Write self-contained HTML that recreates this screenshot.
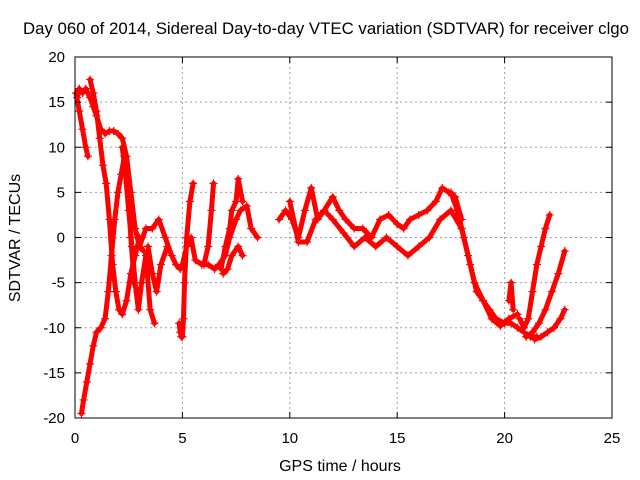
<!DOCTYPE html>
<html><head><meta charset="utf-8"><style>
body{margin:0;background:#fff}
svg{display:block;font-family:"Liberation Sans",sans-serif}
</style></head><body>
<svg id="chart" width="640" height="480" viewBox="0 0 640 480" xmlns="http://www.w3.org/2000/svg">
<rect width="640" height="480" fill="#fff"/>
<text x="326" y="34" font-size="16.5" text-anchor="middle" textLength="606" lengthAdjust="spacingAndGlyphs">Day 060 of 2014, Sidereal Day-to-day VTEC variation (SDTVAR) for receiver clgo</text>
<text x="340" y="471" font-size="16" text-anchor="middle">GPS time / hours</text>
<text x="20" y="238" font-size="16" text-anchor="middle" transform="rotate(-90 20 238)">SDTVAR / TECUs</text>
<g id="grid"></g><g id="marks"></g><g id="axes"></g>
</svg>
<script>
const xTicks=[0,5,10,15,20,25];
const yTicks=[-20,-15,-10,-5,0,5,10,15,20];
const t1x=[0.1,0.2,0.35,0.5,0.7,0.85,1.0,1.2,1.4,1.6,1.8,2.0,2.2,2.4,2.6,2.8,3.0,3.2];
const t1y=[15.5,16.5,16,16.5,15.5,14.5,13.5,12,11.5,11.8,11.8,11.5,11,9,5,1,-1,-1.5];
const t2x=[0.05,0.2,0.35,0.5,0.6];
const t2y=[16,14,12,10,9];
const t3x=[0.7,0.85,1.0,1.15,1.3,1.45,1.6,1.75,1.9,2.05,2.2,2.4,2.6,2.8,3.0];
const t3y=[17.5,16,14,11,8,6,2,-3,-6,-8,-8.5,-7,-4,-2,0];
const t4x=[0.3,0.4,0.55,0.7,0.85,1.0,1.2,1.4,1.55,1.7,1.85,2.0,2.15,2.3,2.45,2.6,2.75,2.9];
const t4y=[-19.5,-18,-16,-14,-12,-10.5,-10,-9,-6,-2,2,5,7,9,6,0,-5,-6];
const t5x=[2.2,2.35,2.5,2.65,2.8,2.95,3.1,3.3,3.5,3.7];
const t5y=[10,7,3,-1,-5,-8,-5,-2,-8,-9.5];
const t6x=[3.0,3.3,3.6,3.9,4.2,4.5,4.7,4.9,5.0,5.2,5.4,5.6,5.9,6.2,6.5,6.7,7.0,7.2,7.5,7.7,8.0,8.2,8.5];
const t6y=[-1,1,1,2,0,-2,-3,-3.5,-3,-1,0,-2.5,-3,-3,-3.5,-3,-2,0,2,3,3.5,1,0];
const t7x=[4.85,4.9,4.95,5.0,5.05,5.1,5.2,5.35,5.5];
const t7y=[-9.5,-10.5,-11,-11,-9,-5,0,4,6];
const t8x=[3.4,3.6,3.8,4.0,4.3];
const t8y=[-1,-4,-6,-3,-1];
const t9x=[6.0,6.2,6.35,6.45];
const t9y=[-3,-1,3,6];
const t10x=[6.8,7.0,7.2,7.3,7.5,7.6,7.8];
const t10y=[-3.5,-1,1,3,4,6.5,4];
const t11x=[6.9,7.1,7.3,7.6,7.8];
const t11y=[-4,-3.5,-2,-1,-2];
const t12x=[9.5,9.8,10.1,10.4,10.7,11.0,11.3,11.6,12.0,12.3,12.6,13.0,13.4,13.8,14.2,14.6,15.0,15.3,15.6,16.0,16.4,16.8,17.1,17.4,17.7,18.0];
const t12y=[2,3,2,0,3,5.5,2,3,4.5,3,2,1,1,0,2,2.5,1.5,1,2,2.5,3,4,5.5,5,4.5,2];
const t13x=[10.0,10.4,10.8,11.2,11.6,12.0,12.5,13.0,13.5,14.0,14.5,15.0,15.5,16.0,16.5,17.0,17.5,18.0];
const t13y=[4,-0.5,-0.5,2,3,2,0.5,-1,0,-1,0,-1,-2,-1,0,2,3,1];
const t14x=[17.5,17.8,18.1,18.4,18.7,19.0,19.3,19.6,20.0,20.3,20.6,20.9,21.2,21.5];
const t14y=[5,3,0,-3,-6,-7,-8,-9,-9.5,-9.5,-10,-10.5,-11,-11];
const t15x=[17.7,18.0,18.3,18.6,19.0,19.4,19.8,20.2,20.6];
const t15y=[4,1,-2,-5,-7,-9,-9.8,-9,-8.5];
const t16x=[20.7,20.9,21.1,21.3,21.5,21.7,21.9,22.1];
const t16y=[-9,-10,-9,-6,-3,-1,1,2.5];
const t17x=[21.0,21.3,21.6,21.9,22.2,22.5,22.8];
const t17y=[-11,-10.5,-9.5,-8,-6,-4,-1.5];
const t18x=[21.4,21.7,22.0,22.3,22.6,22.8];
const t18y=[-11.3,-11,-10.5,-10,-9,-8];
const t19x=[20.2,20.3,20.4];
const t19y=[-7,-5,-8];
const tracks=[[t1x,t1y],[t2x,t2y],[t3x,t3y],[t4x,t4y],[t5x,t5y],[t6x,t6y],[t7x,t7y],[t8x,t8y],[t9x,t9y],[t10x,t10y],[t11x,t11y],[t12x,t12y],[t13x,t13y],[t14x,t14y],[t15x,t15y],[t16x,t16y],[t17x,t17y],[t18x,t18y],[t19x,t19y]];
const L=75,R=612,T=57,B=418;
const sx=v=>L+(v-0)/25*(R-L);
const sy=v=>B-(v+20)/40*(B-T);
const NS='http://www.w3.org/2000/svg';
const mk=(t,a,p)=>{const e=document.createElementNS(NS,t);for(const k in a)e.setAttribute(k,a[k]);p.appendChild(e);return e;};
const grid=document.getElementById('grid'),axes=document.getElementById('axes'),marks=document.getElementById('marks');
xTicks.forEach(v=>{const x=sx(v);
 if(v>0&&v<25){const g=mk('line',{x1:x,x2:x,y1:T,y2:B,stroke:'#a0a0a0','stroke-dasharray':'2,3'},grid);
 
 }
 mk('line',{x1:x,x2:x,y1:B,y2:B-6,stroke:'#000'},axes);mk('line',{x1:x,x2:x,y1:T,y2:T+6,stroke:'#000'},axes);
 const t=mk('text',{x:x,y:B+25,'font-size':15,'text-anchor':'middle'},axes);t.textContent=v;
 
 });
yTicks.forEach(v=>{const y=sy(v);
 if(v>-20&&v<20){const g=mk('line',{x1:L,x2:R,y1:y,y2:y,stroke:'#a0a0a0','stroke-dasharray':'2,3'},grid);
 
 }
 mk('line',{x1:L,x2:L+6,y1:y,y2:y,stroke:'#000'},axes);mk('line',{x1:R,x2:R-6,y1:y,y2:y,stroke:'#000'},axes);
 const t=mk('text',{x:L-10,y:y+5,'font-size':15,'text-anchor':'end'},axes);t.textContent=v;
 
 });
const fr=mk('rect',{x:L,y:T,width:R-L,height:B-T,fill:'none',stroke:'#000'},axes);


tracks.forEach(([xs,ys])=>{
 const pl=mk('polyline',{points:xs.map((x,i)=>sx(x)+','+sy(ys[i])).join(' '),fill:'none',stroke:'#f00','stroke-width':5,'stroke-linejoin':'round','stroke-linecap':'round'},marks);
 
 
 xs.forEach((x,i)=>{const px=sx(x),py=sy(ys[i]);
  const p=mk('path',{d:`M${px-4},${py}h8M${px},${py-4}v8`,stroke:'#f00','stroke-width':1.2},marks);
  
  });
});
</script>
</body></html>
